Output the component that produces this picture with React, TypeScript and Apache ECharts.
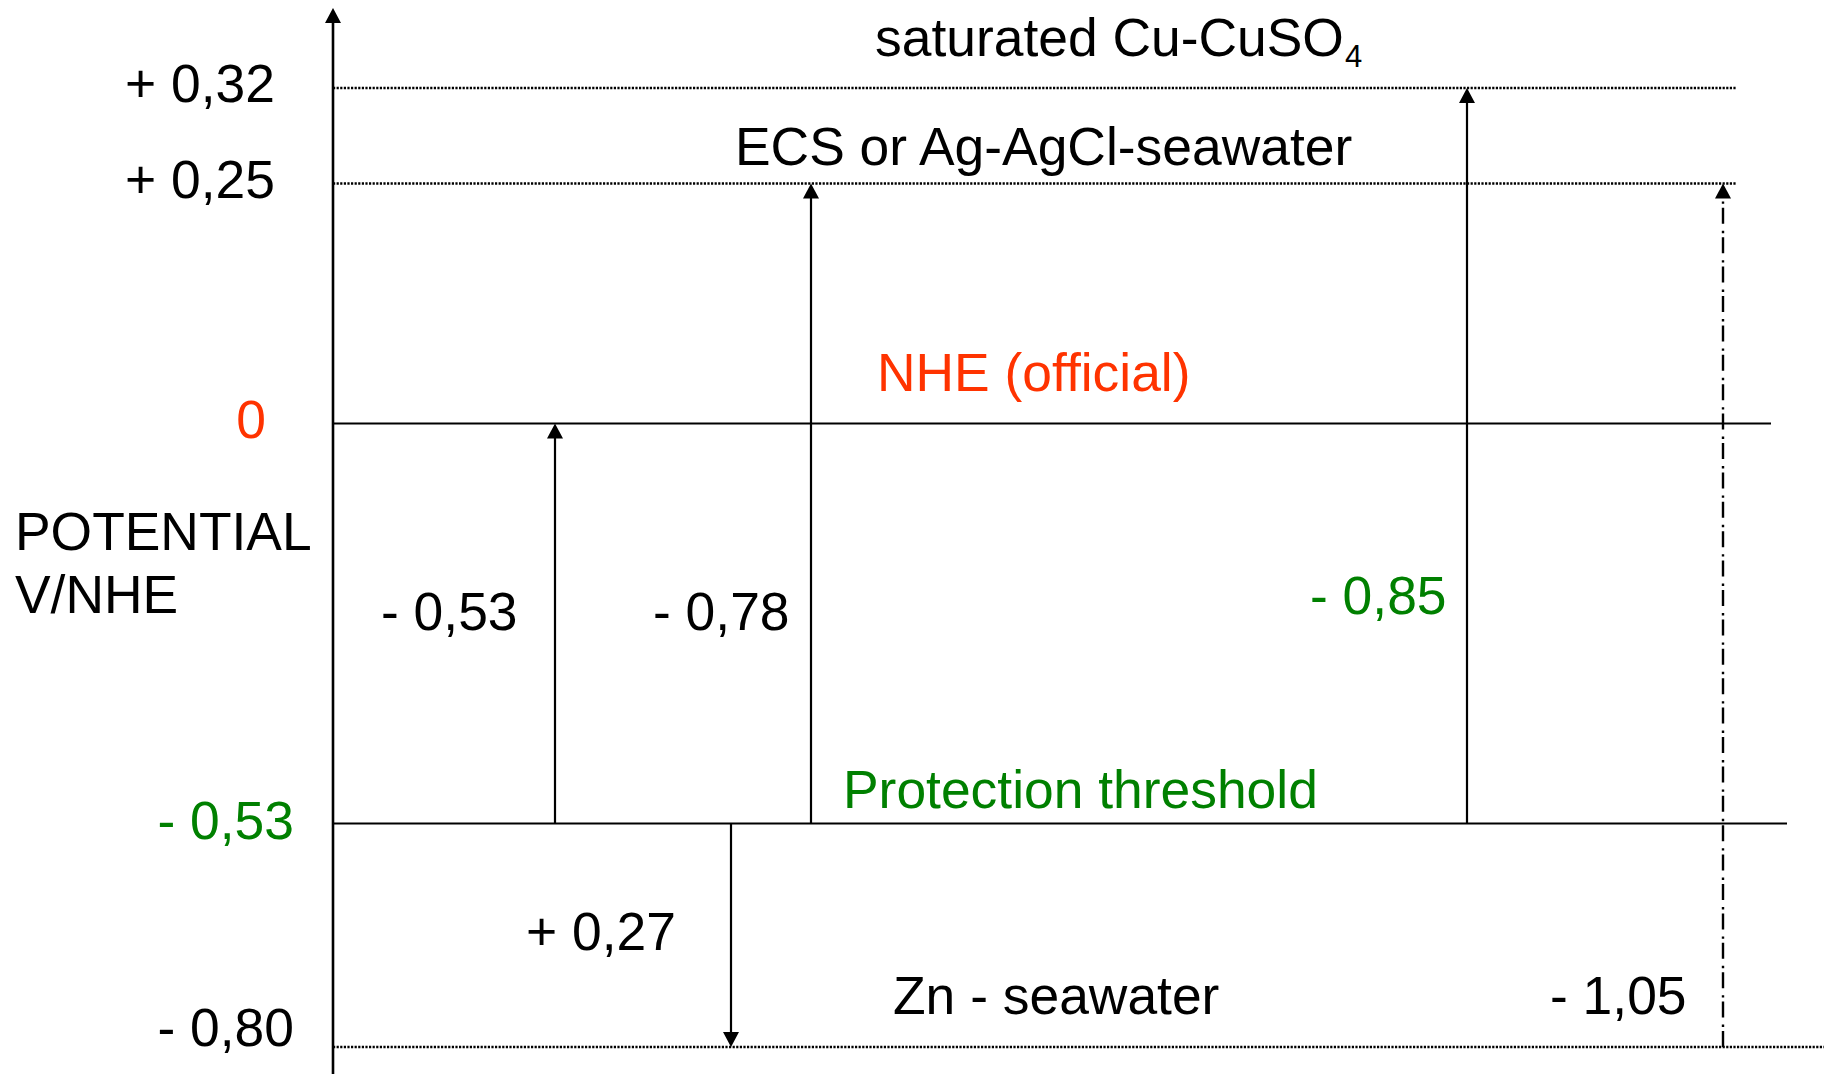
import React, { useEffect, useRef } from "react";
import * as echarts from "echarts";

// ---------- DATA ----------
// Reference electrode potentials (V vs NHE), top to bottom
const levelLabels = ["+ 0,32", "+ 0,25", "0", "- 0,53", "- 0,80"];
const levelPotentials = [0.32, 0.25, 0, -0.53, -0.8];
const levelNames = ["saturated Cu-CuSO", "ECS or Ag-AgCl-seawater", "NHE (official)", "Protection threshold", "Zn - seawater"];
const levelNameSubs = ["4", "", "", "", ""];

// Arrows: potential differences between levels
const arrowLabels = ["- 0,53", "- 0,78", "- 0,85", "+ 0,27", "- 1,05"];
const arrowFrom = [-0.53, -0.53, -0.53, -0.53, -0.8];
const arrowTo = [0, 0.25, 0.32, -0.8, 0.25];

const axisTitle = ["POTENTIAL", "V/NHE"];

// ---------- LAYOUT (schematic, not to scale) ----------
const W = 1824;
const H = 1074;
const AXIS_X = 333;
const AXIS_TOP = 8;
const levelY = [88, 183.5, 423.5, 823.5, 1047];
const levelLineEnd = [1737, 1737, 1771, 1787, 1824];
const levelDotted = [true, true, false, false, true];
const levelLabelPos = [[275, 83.5], [275, 179.5], [266, 419.5], [294, 820], [294, 1027]];
const levelNamePos = [[875, 37.5], [735, 146.5], [877, 372.5], [843, 789], [893, 995.5]];
const subPos = [1345, 56.5];
const arrowX = [555, 811, 1467, 731, 1723];
const arrowDashDot = [false, false, false, false, true];
const arrowLabelPos = [[381, 611], [653, 611], [1310, 595.5], [526, 931], [1550, 995]];
const axisTitlePos = [[15, 531], [15, 594]];

// ---------- STYLE ----------
const FONT = '"Liberation Sans", Arial, Helvetica, sans-serif';
const FS = 53.4;
const SUB_FS = 31;
const RED = "#FF3300";
const GREEN = "#008000";
const BLACK = "#000000";
const levelLabelColors = [BLACK, BLACK, RED, GREEN, BLACK];
const levelNameColors = [BLACK, BLACK, RED, GREEN, BLACK];
const arrowLabelColors = [BLACK, BLACK, GREEN, BLACK, BLACK];

const yOf = (p: number) => levelY[levelPotentials.indexOf(p)];

type TextItem = { text: string; x: number; y: number; color: string; size: number; align: string };

const textItems: TextItem[] = [];
levelLabels.forEach((t, i) =>
  textItems.push({ text: t, x: levelLabelPos[i][0], y: levelLabelPos[i][1], color: levelLabelColors[i], size: FS, align: "right" })
);
levelNames.forEach((t, i) =>
  textItems.push({ text: t, x: levelNamePos[i][0], y: levelNamePos[i][1], color: levelNameColors[i], size: FS, align: "left" })
);
levelNameSubs.forEach((t) => {
  if (t) textItems.push({ text: t, x: subPos[0], y: subPos[1], color: BLACK, size: SUB_FS, align: "left" });
});
arrowLabels.forEach((t, i) =>
  textItems.push({ text: t, x: arrowLabelPos[i][0], y: arrowLabelPos[i][1], color: arrowLabelColors[i], size: FS, align: "left" })
);
axisTitle.forEach((t, i) =>
  textItems.push({ text: t, x: axisTitlePos[i][0], y: axisTitlePos[i][1], color: BLACK, size: FS, align: "left" })
);

function arrowHead(tip: number[], dir: number, w: number, h: number) {
  // dir = -1: pointing up ; dir = +1: pointing down
  const by = tip[1] - dir * h;
  return {
    type: "polygon",
    shape: { points: [[tip[0], tip[1]], [tip[0] - w / 2, by], [tip[0] + w / 2, by]] },
    style: { fill: BLACK, stroke: null },
  };
}

function buildOption() {
  const axisSeries = {
    type: "custom",
    coordinateSystem: "cartesian2d",
    clip: false,
    silent: true,
    data: [[AXIS_X, AXIS_TOP]],
    renderItem: (_params: any, api: any) => {
      const top = api.coord([AXIS_X, AXIS_TOP]);
      const bottom = api.coord([AXIS_X, H]);
      return {
        type: "group",
        children: [
          {
            type: "line",
            shape: { x1: bottom[0], y1: bottom[1], x2: top[0], y2: top[1] + 10 },
            style: { stroke: BLACK, lineWidth: 2.6 },
          },
          arrowHead(top, -1, 16, 15),
        ],
      };
    },
  };

  const levelSeries = {
    type: "custom",
    coordinateSystem: "cartesian2d",
    clip: false,
    silent: true,
    data: levelPotentials.map((p, i) => [levelLineEnd[i], levelY[i], p]),
    renderItem: (params: any, api: any) => {
      const i = params.dataIndex;
      const a = api.coord([AXIS_X, levelY[i]]);
      const b = api.coord([levelLineEnd[i], levelY[i]]);
      return {
        type: "line",
        shape: { x1: a[0], y1: a[1], x2: b[0], y2: b[1] },
        style: levelDotted[i]
          ? { stroke: BLACK, lineWidth: 2.4, lineDash: [2.2, 1.4] }
          : { stroke: BLACK, lineWidth: 2.2 },
      };
    },
  };

  const arrowSeries = {
    type: "custom",
    coordinateSystem: "cartesian2d",
    clip: false,
    silent: true,
    data: arrowFrom.map((f, i) => [arrowX[i], yOf(f), yOf(arrowTo[i])]),
    renderItem: (params: any, api: any) => {
      const i = params.dataIndex;
      const start = api.coord([arrowX[i], yOf(arrowFrom[i])]);
      const tip = api.coord([arrowX[i], yOf(arrowTo[i])]);
      const dir = tip[1] < start[1] ? -1 : 1;
      const w = 16;
      const h = 15;
      return {
        type: "group",
        children: [
          {
            type: "line",
            shape: { x1: start[0], y1: start[1], x2: tip[0], y2: tip[1] - dir * h * 0.6 },
            style: arrowDashDot[i]
              ? { stroke: BLACK, lineWidth: 2.4, lineDash: [16, 4, 2.4, 7] }
              : { stroke: BLACK, lineWidth: 2.2 },
          },
          arrowHead(tip, dir, w, h),
        ],
      };
    },
  };

  const textSeries = {
    type: "custom",
    coordinateSystem: "cartesian2d",
    clip: false,
    silent: true,
    data: textItems.map((t) => [t.x, t.y]),
    renderItem: (params: any, api: any) => {
      const t = textItems[params.dataIndex];
      const p = api.coord([t.x, t.y]);
      return {
        type: "text",
        x: p[0],
        y: p[1],
        style: {
          text: t.text,
          fill: t.color,
          fontSize: t.size,
          fontFamily: FONT,
          align: t.align,
          textAlign: t.align,
          verticalAlign: "middle",
          textVerticalAlign: "middle",
        },
      };
    },
  };

  return {
    animation: false,
    backgroundColor: "#ffffff",
    tooltip: { show: false },
    grid: { left: 0, right: 0, top: 0, bottom: 0, containLabel: false },
    xAxis: { type: "value", min: 0, max: W, show: false },
    yAxis: { type: "value", min: 0, max: H, inverse: true, show: false },
    series: [levelSeries, arrowSeries, axisSeries, textSeries],
  };
}

export default function App() {
  const ref = useRef<HTMLDivElement>(null);
  useEffect(() => {
    document.body.style.margin = "0";
    document.body.style.overflow = "hidden";
    if (!ref.current) return;
    const chart = echarts.init(ref.current, null, { renderer: "svg" });
    chart.setOption(buildOption() as any);
    return () => chart.dispose();
  }, []);
  return <div ref={ref} style={{ width: W, height: H, background: "#fff" }} />;
}
